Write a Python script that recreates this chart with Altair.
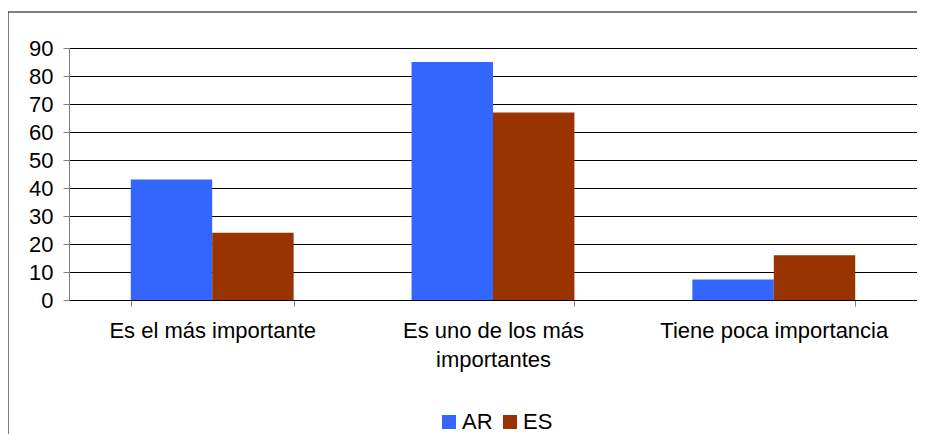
import altair as alt
import pandas as pd

categories = ["Es el más importante", "Es uno de los más importantes", "Tiene poca importancia"]
series = ["AR", "ES"]
ar_values = [43, 85, 7.3]
es_values = [24, 67, 16]
colors = ["#3366FF", "#993300"]
y_ticks = [0, 10, 20, 30, 40, 50, 60, 70, 80, 90]

rows = []
for c, a, e in zip(categories, ar_values, es_values):
    rows.append({"cat": c, "series": "AR", "value": a})
    rows.append({"cat": c, "series": "ES", "value": e})
df = pd.DataFrame(rows)

FONT = "Liberation Sans"

label_expr = ("datum.value == 'Es uno de los más importantes' ? "
              "['Es uno de los más', 'importantes'] : datum.value")

bars = alt.Chart(df).mark_bar().encode(
    x=alt.X("cat:N", sort=categories,
            scale=alt.Scale(paddingInner=0.42, paddingOuter=0.22),
            axis=alt.Axis(title=None, labelAngle=0, tickBand="extent", grid=False,
                          labelExpr=label_expr, labelFont=FONT, labelFontSize=22,
                          labelColor="#000", labelPadding=14, labelLineHeight=29,
                          labelLimit=500,
                          tickSize=6, tickColor="#808080", domainColor="#000",
                          labelBaseline="top")),
    xOffset=alt.XOffset("series:N", sort=series),
    y=alt.Y("value:Q", scale=alt.Scale(domain=[0, 90], nice=False),
            axis=alt.Axis(title=None, values=y_ticks, grid=True, gridColor="#000",
                          gridWidth=1, labelFont=FONT, labelFontSize=22,
                          labelColor="#000", labelPadding=10, tickSize=6,
                          tickColor="#808080", domainColor="#808080")),
    color=alt.Color("series:N", sort=series,
                    scale=alt.Scale(domain=series, range=colors),
                    legend=alt.Legend(title=None, orient="none", legendX=369, legendY=363,
                                      direction="horizontal", symbolType="square",
                                      symbolSize=196, symbolStrokeWidth=0,
                                      labelFont=FONT, labelFontSize=22, labelColor="#000",
                                      padding=0, columnPadding=6, labelOffset=2)),
)

frame = alt.Chart(pd.DataFrame({"k": [0]})).mark_rect(
    fill="transparent", stroke="#000", strokeWidth=1, clip=False
).encode(x=alt.value(-61), x2=alt.value(900), y=alt.value(-36), y2=alt.value(450))

chart = alt.layer(frame, bars).properties(
    width=848, height=252,
    autosize=alt.AutoSizeParams(type="none"),
    padding={"left": 61, "top": 40, "right": 0, "bottom": 134},
).configure_view(stroke=None)

chart.save("out.html", embed_options={"renderer": "svg", "actions": False})
